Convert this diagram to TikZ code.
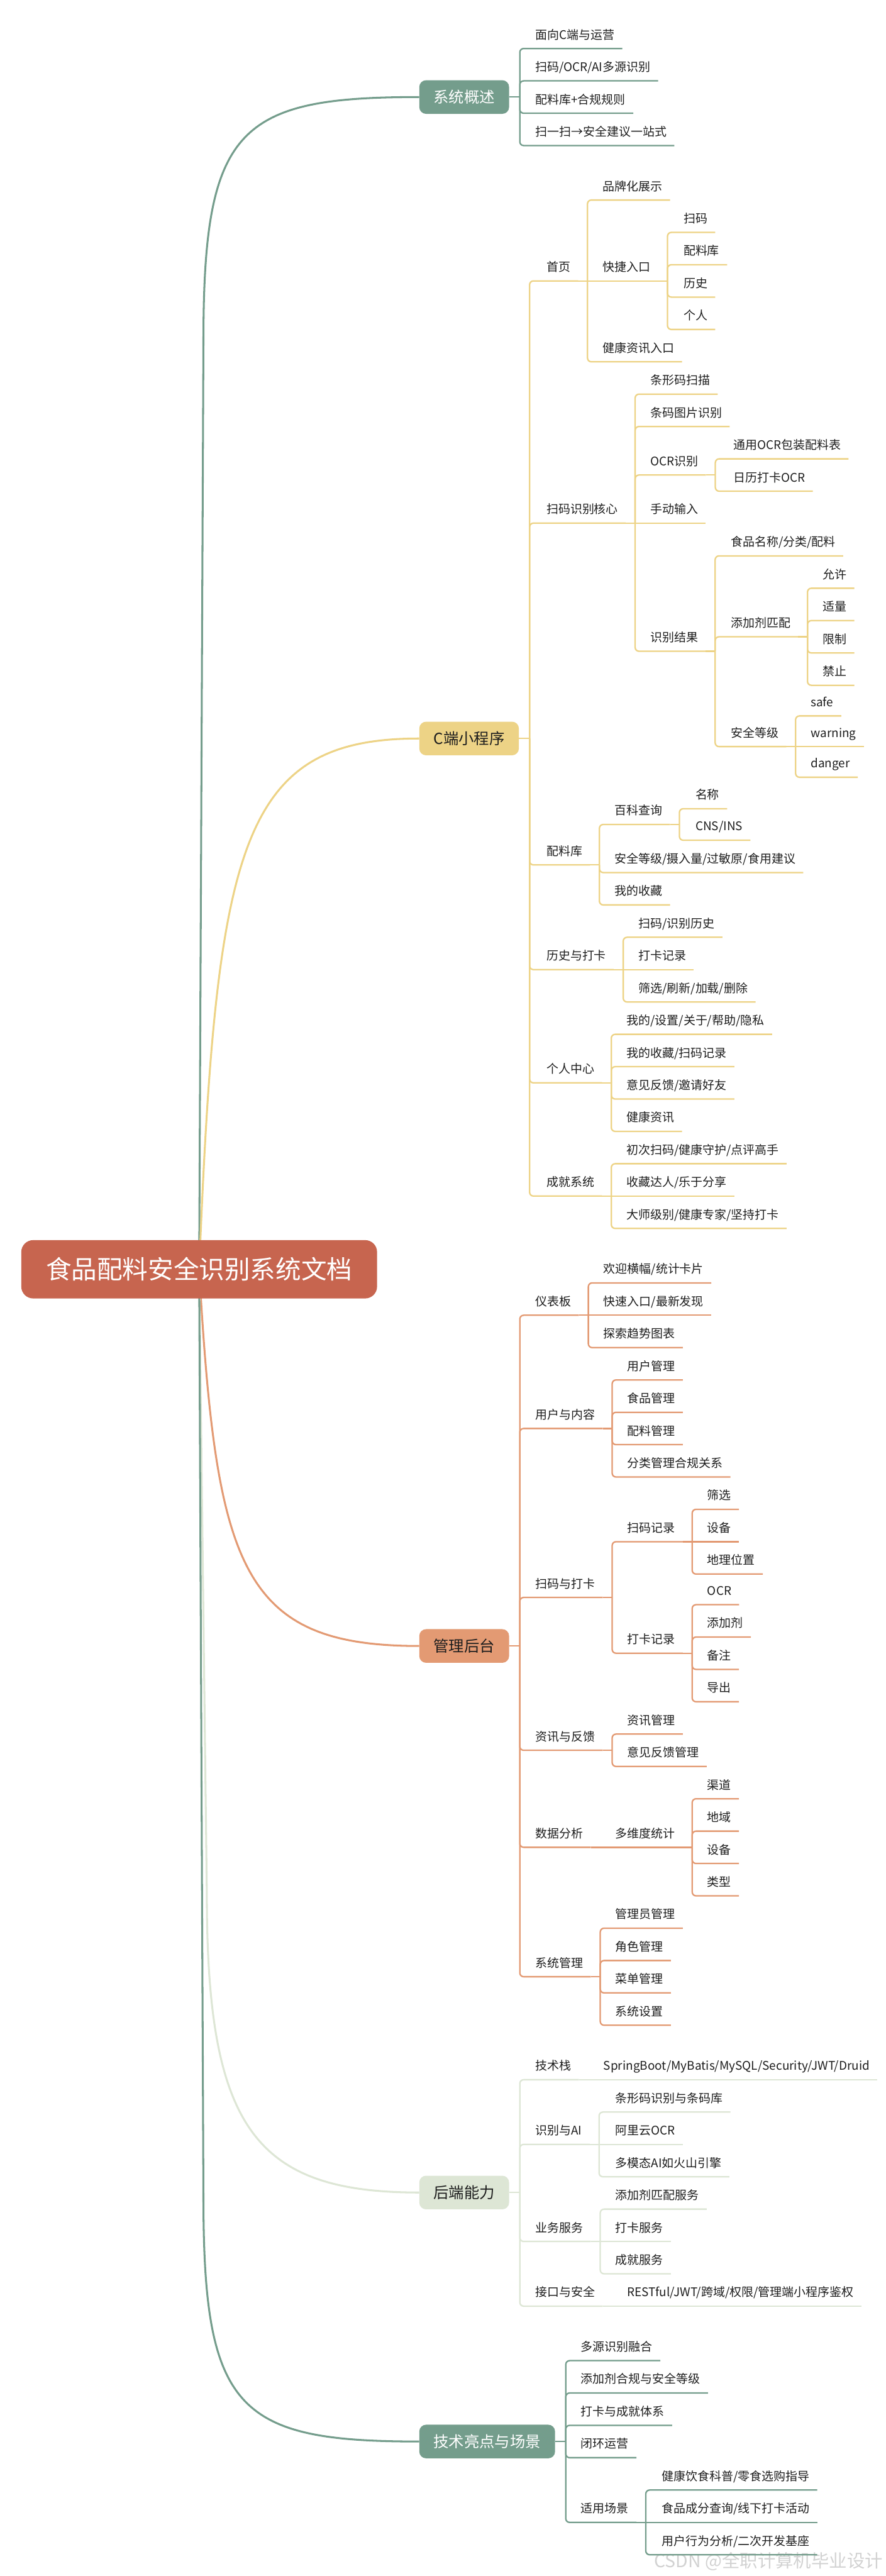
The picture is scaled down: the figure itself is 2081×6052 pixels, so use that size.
\documentclass[tikz,border=0pt]{standalone}
\usepackage{xcolor}
\usepackage{fontspec}
\usepackage{tikz}
\usetikzlibrary{backgrounds}
\setmainfont{Noto Sans CJK SC}

\definecolor{sage}{RGB}{116,157,140}
\definecolor{mustard}{RGB}{237,211,134}
\definecolor{salmon}{RGB}{227,154,115}
\definecolor{mint}{RGB}{221,230,213}
\definecolor{brick}{RGB}{199,101,79}
\definecolor{ink}{RGB}{30,30,30}

\begin{document}
\begin{tikzpicture}[x=1pt, y=-1pt,
    leaf/.style={anchor=south west, inner xsep=18pt, inner ysep=0pt, text depth=22pt, text=ink, font=\fontsize{28}{34}\selectfont},
    topic/.style={anchor=west, rounded corners=16pt, inner xsep=33.5pt, inner ysep=0pt, minimum height=79pt, font=\fontsize{36}{43}\selectfont},
    title/.style={fill=brick, text=white, rounded corners=28pt, minimum width=836pt, minimum height=137pt, inner sep=0pt, font=\fontsize{60}{72}\selectfont},
    limb/.style={line width=4.5pt},
    twig/.style={line width=3.4pt, rounded corners=9pt},
    lnG/.style={twig, draw=sage},
    lnY/.style={twig, draw=mustard},
    lnO/.style={twig, draw=salmon},
    lnM/.style={twig, draw=mint}
]
\useasboundingbox (0,0) rectangle (2081,6052);

% root and main topics
\node (root) [title] at (468,2982) {食品配料安全识别系统文档};
\node (gaishu) [topic, fill=sage, text=white] at (985,228) {系统概述};
\node (cduan) [topic, fill=mustard, text=ink] at (985,1735) {C端小程序};
\node (houtai) [topic, fill=salmon, text=ink] at (985,3867) {管理后台};
\node (houduan) [topic, fill=mint, text=ink] at (985,5151) {后端能力};
\node (liangdian) [topic, fill=sage, text=white] at (985,5736) {技术亮点与场景};

% 系统概述
\node (ovFace) [leaf] at (1240,114) {面向C端与运营};
\node (ovMulti) [leaf] at (1240,190) {扫码/OCR/AI多源识别};
\node (ovRule) [leaf] at (1240,266) {配料库+合规规则};
\node (ovOne) [leaf] at (1240,342) {扫一扫→安全建议一站式};

% C端小程序
\node (home) [leaf] at (1266,660) {首页};
\node (brand) [leaf] at (1398,470) {品牌化展示};
\node (quick) [leaf] at (1398,660) {快捷入口};
\node (qScan) [leaf] at (1588,546) {扫码};
\node (qLib) [leaf] at (1588,622) {配料库};
\node (qHist) [leaf] at (1588,698) {历史};
\node (qMe) [leaf] at (1588,774) {个人};
\node (news) [leaf] at (1398,850) {健康资讯入口};
\node (core) [leaf] at (1266,1229) {扫码识别核心};
\node (barScan) [leaf] at (1510,926) {条形码扫描};
\node (barPic) [leaf] at (1510,1002) {条码图片识别};
\node (ocr) [leaf] at (1510,1116) {OCR识别};
\node (ocrPack) [leaf] at (1705,1078) {通用OCR包装配料表};
\node (ocrCal) [leaf] at (1705,1154) {日历打卡OCR};
\node (manual) [leaf] at (1510,1229) {手动输入};
\node (result) [leaf] at (1510,1530) {识别结果};
\node (resName) [leaf] at (1699,1306) {食品名称/分类/配料};
\node (resAdd) [leaf] at (1699,1496) {添加剂匹配};
\node (addOk) [leaf] at (1915,1382) {允许};
\node (addMid) [leaf] at (1915,1458) {适量};
\node (addLim) [leaf] at (1915,1534) {限制};
\node (addBan) [leaf] at (1915,1610) {禁止};
\node (resLvl) [leaf] at (1699,1754) {安全等级};
\node (lvSafe) [leaf] at (1887,1682) {safe};
\node (lvWarn) [leaf] at (1887,1754) {warning};
\node (lvDanger) [leaf] at (1887,1826) {danger};
\node (lib) [leaf] at (1266,2032) {配料库};
\node (wiki) [leaf] at (1426,1937) {百科查询};
\node (wikiName) [leaf] at (1616,1900) {名称};
\node (wikiCode) [leaf] at (1616,1974) {CNS/INS};
\node (libInfo) [leaf] at (1426,2050) {安全等级/摄入量/过敏原/食用建议};
\node (libFav) [leaf] at (1426,2126) {我的收藏};
\node (hist) [leaf] at (1266,2278) {历史与打卡};
\node (histScan) [leaf] at (1482,2202) {扫码/识别历史};
\node (histCheck) [leaf] at (1482,2278) {打卡记录};
\node (histOps) [leaf] at (1482,2354) {筛选/刷新/加载/删除};
\node (me) [leaf] at (1266,2544) {个人中心};
\node (meSet) [leaf] at (1454,2430) {我的/设置/关于/帮助/隐私};
\node (meFav) [leaf] at (1454,2506) {我的收藏/扫码记录};
\node (meFb) [leaf] at (1454,2582) {意见反馈/邀请好友};
\node (meNews) [leaf] at (1454,2658) {健康资讯};
\node (badge) [leaf] at (1266,2810) {成就系统};
\node (badge1) [leaf] at (1454,2734) {初次扫码/健康守护/点评高手};
\node (badge2) [leaf] at (1454,2810) {收藏达人/乐于分享};
\node (badge3) [leaf] at (1454,2886) {大师级别/健康专家/坚持打卡};

% 管理后台
\node (board) [leaf] at (1240,3090) {仪表板};
\node (bWelcome) [leaf] at (1400,3014) {欢迎横幅/统计卡片};
\node (bQuick) [leaf] at (1400,3090) {快速入口/最新发现};
\node (bTrend) [leaf] at (1400,3166) {探索趋势图表};
\node (users) [leaf] at (1240,3356) {用户与内容};
\node (uUser) [leaf] at (1456,3242) {用户管理};
\node (uFood) [leaf] at (1456,3318) {食品管理};
\node (uIngr) [leaf] at (1456,3394) {配料管理};
\node (uCat) [leaf] at (1456,3470) {分类管理合规关系};
\node (scanck) [leaf] at (1240,3753) {扫码与打卡};
\node (sRec) [leaf] at (1456,3622) {扫码记录};
\node (sFilter) [leaf] at (1644,3546) {筛选};
\node (sDev) [leaf] at (1644,3622) {设备};
\node (sGeo) [leaf] at (1644,3698) {地理位置};
\node (cRec) [leaf] at (1456,3884) {打卡记录};
\node (cOcr) [leaf] at (1644,3770) {OCR};
\node (cAdd) [leaf] at (1644,3846) {添加剂};
\node (cNote) [leaf] at (1644,3922) {备注};
\node (cExp) [leaf] at (1644,3998) {导出};
\node (feed) [leaf] at (1240,4112) {资讯与反馈};
\node (fNews) [leaf] at (1456,4074) {资讯管理};
\node (fBack) [leaf] at (1456,4150) {意见反馈管理};
\node (stats) [leaf] at (1240,4340) {数据分析};
\node (stMulti) [leaf] at (1428,4340) {多维度统计};
\node (stChan) [leaf] at (1644,4226) {渠道};
\node (stArea) [leaf] at (1644,4302) {地域};
\node (stDev) [leaf] at (1644,4378) {设备};
\node (stType) [leaf] at (1644,4454) {类型};
\node (sys) [leaf] at (1240,4644) {系统管理};
\node (sysAdmin) [leaf] at (1428,4530) {管理员管理};
\node (sysRole) [leaf] at (1428,4606) {角色管理};
\node (sysMenu) [leaf] at (1428,4682) {菜单管理};
\node (sysSet) [leaf] at (1428,4758) {系统设置};

% 后端能力
\node (stack) [leaf] at (1240,4886) {技术栈};
\node (stackList) [leaf] at (1400,4886) {SpringBoot/MyBatis/MySQL/Security/JWT/Druid};
\node (ai) [leaf] at (1240,5038) {识别与AI};
\node (aiBar) [leaf] at (1428,4962) {条形码识别与条码库};
\node (aiOcr) [leaf] at (1428,5038) {阿里云OCR};
\node (aiLlm) [leaf] at (1428,5114) {多模态AI如火山引擎};
\node (svc) [leaf] at (1240,5266) {业务服务};
\node (svcAdd) [leaf] at (1428,5190) {添加剂匹配服务};
\node (svcCheck) [leaf] at (1428,5266) {打卡服务};
\node (svcBadge) [leaf] at (1428,5342) {成就服务};
\node (api) [leaf] at (1240,5418) {接口与安全};
\node (apiList) [leaf] at (1456,5418) {RESTful/JWT/跨域/权限/管理端小程序鉴权};

% 技术亮点与场景
\node (hl1) [leaf] at (1347,5546) {多源识别融合};
\node (hl2) [leaf] at (1347,5622) {添加剂合规与安全等级};
\node (hl3) [leaf] at (1347,5698) {打卡与成就体系};
\node (hl4) [leaf] at (1347,5774) {闭环运营};
\node (scene) [leaf] at (1347,5926) {适用场景};
\node (scene1) [leaf] at (1537,5850) {健康饮食科普/零食选购指导};
\node (scene2) [leaf] at (1537,5926) {食品成分查询/线下打卡活动};
\node (scene3) [leaf] at (1537,6002) {用户行为分析/二次开发基座};

\node (mark) [anchor=east, text=gray!35, font=\fontsize{42}{50}\selectfont] at (2078,6017) {CSDN @全职计算机毕业设计};

% branches
\draw[lnG] (gaishu.east) -- ++(25,0) coordinate (gaishu-j);
\foreach \c in {ovFace,ovMulti,ovRule,ovOne} \draw[lnG] (gaishu-j) |- (\c.south east);

\draw[lnY] (cduan.east) -- ++(25,0) coordinate (cduan-j);
\foreach \c in {home,core,lib,hist,me,badge} \draw[lnY] (cduan-j) |- (\c.south east);
\draw[lnY] (home.south east) -- ++(22,0) coordinate (home-j) -- (quick.south east);
\foreach \c in {brand,news} \draw[lnY] (home-j) |- (\c.south east);
\draw[lnY] (quick.south east) -- ++(22,0) coordinate (quick-j);
\foreach \c in {qScan,qLib,qHist,qMe} \draw[lnY] (quick-j) |- (\c.south east);
\draw[lnY] (core.south east) -- ++(22,0) coordinate (core-j) -- (manual.south east);
\foreach \c in {barScan,barPic,ocr,result} \draw[lnY] (core-j) |- (\c.south east);
\draw[lnY] (ocr.south east) -- ++(22,0) coordinate (ocr-j);
\foreach \c in {ocrPack,ocrCal} \draw[lnY] (ocr-j) |- (\c.south east);
\draw[lnY] (result.south east) -- ++(22,0) coordinate (result-j);
\foreach \c in {resName,resAdd,resLvl} \draw[lnY] (result-j) |- (\c.south east);
\draw[lnY] (resAdd.south east) -- ++(22,0) coordinate (resAdd-j);
\foreach \c in {addOk,addMid,addLim,addBan} \draw[lnY] (resAdd-j) |- (\c.south east);
\draw[lnY] (resLvl.south east) -- ++(22,0) coordinate (resLvl-j) -- (lvWarn.south east);
\foreach \c in {lvSafe,lvDanger} \draw[lnY] (resLvl-j) |- (\c.south east);
\draw[lnY] (lib.south east) -- ++(22,0) coordinate (lib-j);
\foreach \c in {wiki,libInfo,libFav} \draw[lnY] (lib-j) |- (\c.south east);
\draw[lnY] (wiki.south east) -- ++(22,0) coordinate (wiki-j);
\foreach \c in {wikiName,wikiCode} \draw[lnY] (wiki-j) |- (\c.south east);
\draw[lnY] (hist.south east) -- ++(22,0) coordinate (hist-j) -- (histCheck.south east);
\foreach \c in {histScan,histOps} \draw[lnY] (hist-j) |- (\c.south east);
\draw[lnY] (me.south east) -- ++(22,0) coordinate (me-j);
\foreach \c in {meSet,meFav,meFb,meNews} \draw[lnY] (me-j) |- (\c.south east);
\draw[lnY] (badge.south east) -- ++(22,0) coordinate (badge-j) -- (badge2.south east);
\foreach \c in {badge1,badge3} \draw[lnY] (badge-j) |- (\c.south east);

\draw[lnO] (houtai.east) -- ++(25,0) coordinate (houtai-j);
\foreach \c in {board,users,scanck,feed,stats,sys} \draw[lnO] (houtai-j) |- (\c.south east);
\draw[lnO] (board.south east) -- ++(22,0) coordinate (board-j) -- (bQuick.south east);
\foreach \c in {bWelcome,bTrend} \draw[lnO] (board-j) |- (\c.south east);
\draw[lnO] (users.south east) -- ++(22,0) coordinate (users-j);
\foreach \c in {uUser,uFood,uIngr,uCat} \draw[lnO] (users-j) |- (\c.south east);
\draw[lnO] (scanck.south east) -- ++(22,0) coordinate (scanck-j);
\foreach \c in {sRec,cRec} \draw[lnO] (scanck-j) |- (\c.south east);
\draw[lnO] (sRec.south east) -- ++(22,0) coordinate (sRec-j) -- (sDev.south east);
\foreach \c in {sFilter,sGeo} \draw[lnO] (sRec-j) |- (\c.south east);
\draw[lnO] (cRec.south east) -- ++(22,0) coordinate (cRec-j);
\foreach \c in {cOcr,cAdd,cNote,cExp} \draw[lnO] (cRec-j) |- (\c.south east);
\draw[lnO] (feed.south east) -- ++(22,0) coordinate (feed-j);
\foreach \c in {fNews,fBack} \draw[lnO] (feed-j) |- (\c.south east);
\draw[lnO] (stats.south east) -- (stMulti.south east);
\draw[lnO] (stMulti.south east) -- ++(22,0) coordinate (stMulti-j);
\foreach \c in {stChan,stArea,stDev,stType} \draw[lnO] (stMulti-j) |- (\c.south east);
\draw[lnO] (sys.south east) -- ++(22,0) coordinate (sys-j);
\foreach \c in {sysAdmin,sysRole,sysMenu,sysSet} \draw[lnO] (sys-j) |- (\c.south east);

\draw[lnM] (houduan.east) -- ++(25,0) coordinate (houduan-j);
\foreach \c in {stack,ai,svc,api} \draw[lnM] (houduan-j) |- (\c.south east);
\draw[lnM] (stack.south east) -- (stackList.south east);
\draw[lnM] (ai.south east) -- ++(22,0) coordinate (ai-j) -- (aiOcr.south east);
\foreach \c in {aiBar,aiLlm} \draw[lnM] (ai-j) |- (\c.south east);
\draw[lnM] (svc.south east) -- ++(22,0) coordinate (svc-j) -- (svcCheck.south east);
\foreach \c in {svcAdd,svcBadge} \draw[lnM] (svc-j) |- (\c.south east);
\draw[lnM] (api.south east) -- (apiList.south east);

\draw[lnG] (liangdian.east) -- ++(25,0) coordinate (liangdian-j);
\foreach \c in {hl1,hl2,hl3,hl4,scene} \draw[lnG] (liangdian-j) |- (\c.south east);
\draw[lnG] (scene.south east) -- ++(22,0) coordinate (scene-j) -- (scene2.south east);
\foreach \c in {scene1,scene3} \draw[lnG] (scene-j) |- (\c.south east);

% curves from the root
\begin{scope}[on background layer]
  \fill[white] (0,0) rectangle (2081,6052);
  \draw[limb, sage] (root.center) -- (478,800) .. controls (478,300) and (560,228) .. (gaishu.west);
  \draw[limb, mustard] (root.center) .. controls +(40,-1000) and +(-420,0) .. (cduan.west);
  \draw[limb, salmon] (root.center) .. controls +(40,700) and +(-420,0) .. (houtai.west);
  \draw[limb, mint] (root.center) -- (486,4450) .. controls (486,5000) and (600,5151) .. (houduan.west);
  \draw[limb, sage] (root.center) -- (478,5164) .. controls (478,5664) and (560,5736) .. (liangdian.west);
\end{scope}
\end{tikzpicture}
\end{document}
